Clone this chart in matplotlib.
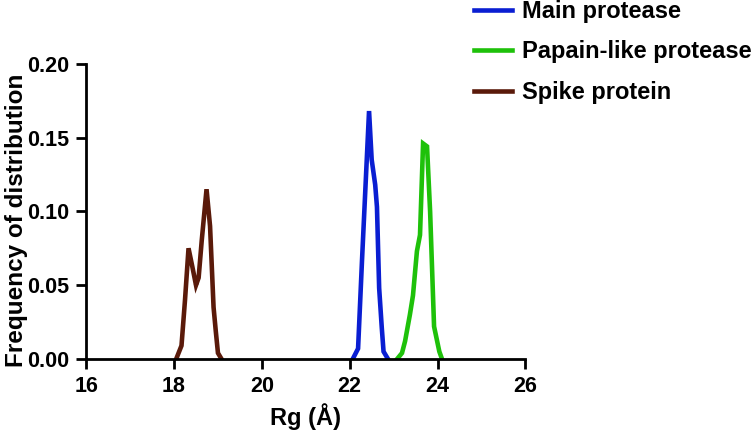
import matplotlib
matplotlib.use("Agg")
import matplotlib.pyplot as plt

plt.rcParams["font.family"] = ["Liberation Sans", "DejaVu Sans"]
plt.rcParams["font.weight"] = "bold"

# Rg values (Angstrom) and frequency of distribution
main_x = [22.07, 22.19, 22.28, 22.44, 22.50, 22.58, 22.62, 22.67, 22.73, 22.77, 22.87]
main_y = [0.0, 0.007, 0.067, 0.168, 0.135, 0.118, 0.103, 0.048, 0.021, 0.005, 0.0]

papain_x = [23.08, 23.19, 23.26, 23.37, 23.44, 23.53, 23.60, 23.67, 23.76, 23.83, 23.92, 24.04, 24.10]
papain_y = [0.0, 0.004, 0.012, 0.030, 0.043, 0.073, 0.084, 0.146, 0.144, 0.100, 0.022, 0.005, 0.0]

spike_x = [18.05, 18.17, 18.25, 18.33, 18.42, 18.50, 18.56, 18.63, 18.74, 18.82, 18.90, 18.95, 19.00, 19.08]
spike_y = [0.0, 0.009, 0.040, 0.075, 0.062, 0.050, 0.055, 0.080, 0.115, 0.090, 0.035, 0.019, 0.004, 0.0]

labels = ["Main protease", "Papain-like protease", "Spike protein"]
colors = ["#0A1ED2", "#1EC10A", "#5A1A0A"]

xticks = [16, 18, 20, 22, 24, 26]
yticks = [0.00, 0.05, 0.10, 0.15, 0.20]

fig = plt.figure(figsize=(7.56, 4.34), dpi=100)
ax = fig.add_axes([0.114, 0.173, 0.581, 0.68])

series = [(main_x, main_y), (papain_x, papain_y), (spike_x, spike_y)]
for (x, y), lab, col in zip(series, labels, colors):
    ax.plot(x, y, color=col, lw=3.3, label=lab, solid_joinstyle="miter")

ax.set_xlim(16, 26)
ax.set_ylim(0, 0.20)
ax.set_xticks(xticks)
ax.set_yticks(yticks)
ax.set_yticklabels([f"{v:.2f}" for v in yticks])
ax.tick_params(labelsize=15.5, width=2, length=7, pad=5, direction="out")
for s in ["top", "right"]:
    ax.spines[s].set_visible(False)
for s in ["left", "bottom"]:
    ax.spines[s].set_linewidth(2)
for lbl in ax.get_xticklabels() + ax.get_yticklabels():
    lbl.set_fontweight("bold")

ax.set_xlabel("Rg (Å)", fontsize=17, fontweight="bold", labelpad=5)
ax.set_ylabel("Frequency of distribution", fontsize=17.5, fontweight="bold")
ax.yaxis.set_label_coords(-0.132, 0.47)

ax.legend(loc="upper left", bbox_to_anchor=(0.627, 1.0), bbox_transform=fig.transFigure,
          frameon=False, prop={"weight": "bold", "size": 17},
          handlelength=1.6, handletextpad=0.42, labelspacing=0.74,
          borderpad=0, borderaxespad=0)

fig.savefig("out.png", dpi=100)
